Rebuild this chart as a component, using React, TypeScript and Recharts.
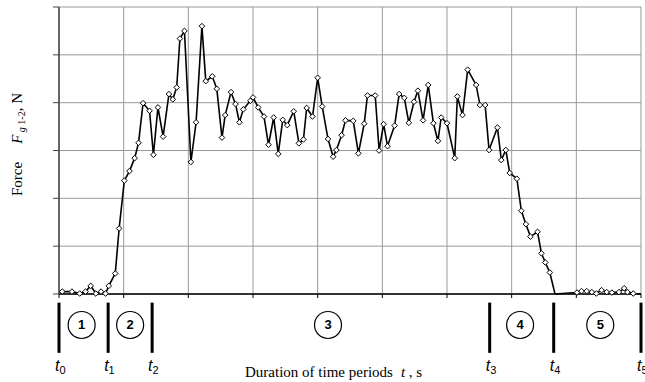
import React from "react";
import {
  LineChart,
  Line,
  XAxis,
  YAxis,
  CartesianGrid,
  ReferenceLine,
  ReferenceDot,
} from "recharts";

// time in grid units (one vertical grid step each)
const time = [
  0.05, 0.2, 0.32, 0.41, 0.49, 0.57, 0.65, 0.72, 0.77, 0.87,
  0.93, 1.01, 1.09, 1.17, 1.23, 1.3, 1.4, 1.46, 1.53, 1.61,
  1.7, 1.76, 1.82, 1.87, 1.94, 2.04, 2.12, 2.21, 2.27, 2.37,
  2.44, 2.52, 2.57, 2.66, 2.73, 2.79, 2.85, 2.96, 3.0, 3.08,
  3.17, 3.24, 3.32, 3.39, 3.46, 3.53, 3.63, 3.71, 3.78, 3.83,
  3.92, 4.0, 4.07, 4.16, 4.24, 4.29, 4.37, 4.43, 4.55, 4.63,
  4.72, 4.77, 4.89, 4.95, 5.02, 5.08, 5.19, 5.26, 5.34, 5.41,
  5.49, 5.55, 5.63, 5.71, 5.79, 5.86, 5.91, 6.0, 6.12, 6.16,
  6.24, 6.32, 6.45, 6.51, 6.59, 6.65, 6.78, 6.84, 6.91, 6.97,
  7.08, 7.15, 7.22, 7.29, 7.4, 7.46, 7.52, 7.59, 7.67, 8.01,
  8.08, 8.16, 8.24, 8.31, 8.39, 8.47, 8.55, 8.66, 8.74, 8.79, 8.88, 9.0,
];

// force in grid units (one horizontal grid step each)
const force = [
  0.05, 0.05, 0.01, 0.05, 0.17, 0.01, 0.05, 0.01, 0.17, 0.43,
  1.37, 2.37, 2.57, 2.84, 3.16, 3.99, 3.83, 2.91, 3.9, 3.29,
  4.18, 4.07, 4.32, 5.34, 5.5, 2.76, 3.59, 5.6, 4.45, 4.55,
  4.29, 3.27, 3.74, 4.22, 3.97, 3.59, 3.86, 4.04, 4.11, 3.9,
  3.71, 3.12, 3.69, 2.93, 3.64, 3.53, 3.82, 3.15, 3.23, 3.89,
  3.71, 4.52, 3.92, 3.24, 2.87, 3.01, 3.32, 3.63, 3.62, 2.94,
  3.56, 4.15, 4.15, 3.0, 3.55, 3.09, 3.52, 4.18, 4.1, 3.58,
  4.02, 4.25, 3.63, 4.37, 3.57, 3.2, 3.69, 3.57, 2.84, 4.13,
  3.74, 4.69, 4.37, 3.95, 3.95, 3.01, 3.48, 2.8, 3.01, 2.53,
  2.41, 1.74, 1.46, 1.2, 1.3, 0.85, 0.66, 0.45, 0, 0.03,
  0.06, 0.06, 0.04, 0.01, 0.08, 0.04, 0.03, 0.04, 0.12, 0.04, 0.01, 0,
];

const xTicks = [0, 1, 2, 3, 4, 5, 6, 7, 8, 9];
const yTicks = [0, 1, 2, 3, 4, 5, 6];

// period boundaries t0..t5 and the period numbers between them
const boundaries = [0, 0.76, 1.44, 6.66, 7.65, 9];
const boundaryNames = ["0", "1", "2", "3", "4", "5"];
const periodCenters = [0.35, 1.1, 4.16, 7.13, 8.37];
const periodNames = ["1", "2", "3", "4", "5"];

const data = time.map((t, i) => ({ t, f: force[i] }));

const SERIF = "'Liberation Serif', 'Times New Roman', serif";
const SANS = "'Liberation Sans', Arial, sans-serif";

function Marker(props: any) {
  const { cx, cy, payload, index } = props;
  if (payload.f === 0) return <g key={`m-${index}`} />;
  const s = 2.8;
  return (
    <path
      key={`m-${index}`}
      d={`M${cx},${cy - s}L${cx + s},${cy}L${cx},${cy + s}L${cx - s},${cy}Z`}
      fill="#fff"
      stroke="#000"
      strokeWidth={1}
    />
  );
}

function YTitle(props: any) {
  const vb = props.viewBox;
  const x = vb.x + 22;
  const y = vb.y + vb.height / 2 - 6;
  return (
    <text
      x={x}
      y={y}
      transform={`rotate(-90, ${x}, ${y})`}
      textAnchor="middle"
      fontFamily={SERIF}
      fontSize={15}
      fill="#000"
    >
      <tspan>Force</tspan>
      <tspan dx={18} fontStyle="italic">F</tspan>
      <tspan dy={3} fontSize={10} fontStyle="italic"> g</tspan>
      <tspan fontSize={10}> 1-2</tspan>
      <tspan dy={-3}>, N</tspan>
    </text>
  );
}

function XTitle(props: any) {
  const vb = props.viewBox;
  return (
    <text
      x={vb.x + 186}
      y={vb.y + 83}
      fontFamily={SERIF}
      fontSize={15}
      fill="#000"
    >
      <tspan>Duration of time periods</tspan>
      <tspan dx={8} fontStyle="italic">t</tspan>
      <tspan> , s</tspan>
    </text>
  );
}

const noLabel = () => "";

export default function App() {
  return (
    <div
      style={{
        position: "absolute",
        left: 0,
        top: 0,
        width: 645,
        height: 382,
        background: "#fff",
      }}
    >
      <LineChart
        width={645}
        height={382}
        data={data}
        margin={{ top: 7, right: 4, left: 0, bottom: 0 }}
      >
        <CartesianGrid stroke="#999" strokeWidth={1} />
        <XAxis
          dataKey="t"
          type="number"
          domain={[0, 9]}
          ticks={xTicks}
          tickFormatter={noLabel}
          tickSize={4}
          height={88}
          stroke="#000"
          axisLine={{ stroke: "#000", strokeWidth: 1.5 }}
          label={{ content: XTitle }}
        />
        <YAxis
          type="number"
          domain={[0, 6]}
          ticks={yTicks}
          tickFormatter={noLabel}
          tickSize={6}
          width={59}
          stroke="#444"
          axisLine={{ stroke: "#444", strokeWidth: 1.5 }}
          label={{ content: YTitle }}
        />
        <Line
          dataKey="f"
          stroke="#000"
          strokeWidth={1.6}
          dot={Marker}
          activeDot={false}
          isAnimationActive={false}
        />
        {boundaries.map((b) => (
          <ReferenceLine
            key={`b-${b}`}
            segment={[
              { x: b, y: -0.18 },
              { x: b, y: -1.23 },
            ]}
            stroke="#000"
            strokeWidth={3}
            ifOverflow="visible"
          />
        ))}
        {boundaries.map((b, i) => (
          <ReferenceDot
            key={`tl-${b}`}
            x={b}
            y={-1.6}
            r={0}
            ifOverflow="visible"
            shape={(p: any) => (
              <text
                x={p.cx - 4}
                y={p.cy}
                fontFamily={SANS}
                fontSize={16}
                fill="#000"
              >
                <tspan fontStyle="italic">t</tspan>
                <tspan dy={3} fontSize={11}>{boundaryNames[i]}</tspan>
              </text>
            )}
          />
        ))}
        {periodCenters.map((c, i) => (
          <ReferenceDot
            key={`pc-${c}`}
            x={c}
            y={-0.648}
            r={13.5}
            ifOverflow="visible"
            shape={(p: any) => (
              <g>
                <circle
                  cx={p.cx}
                  cy={p.cy}
                  r={13.5}
                  fill="#fff"
                  stroke="#000"
                  strokeWidth={1.2}
                />
                <text
                  x={p.cx}
                  y={p.cy + 4.5}
                  textAnchor="middle"
                  fontFamily={SANS}
                  fontWeight="bold"
                  fontSize={13}
                  fill="#000"
                >
                  {periodNames[i]}
                </text>
              </g>
            )}
          />
        ))}
      </LineChart>
    </div>
  );
}
